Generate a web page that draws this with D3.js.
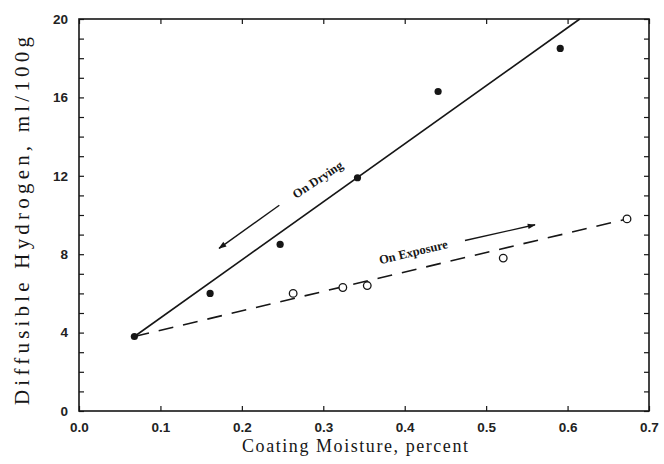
<!DOCTYPE html>
<html><head><meta charset="utf-8">
<script src="https://cdn.jsdelivr.net/npm/d3@7"></script>
<style>body{margin:0;background:#fff}</style>
</head><body>
<svg id="c" width="664" height="464"></svg>
<script>
// Data
const dryingX = [0.068, 0.161, 0.247, 0.342, 0.441, 0.591];
const dryingY = [3.8, 6.0, 8.5, 11.9, 16.3, 18.5];
const exposureX = [0.263, 0.324, 0.354, 0.521, 0.673];
const exposureY = [6.0, 6.3, 6.4, 7.8, 9.8];
const dryingFitX = [0.068, 0.615];
const dryingFitY = [3.8, 20];
const exposureFitX = [0.068, 0.673];
const exposureFitY = [3.8, 9.8];
const xTicks = [0, 0.1, 0.2, 0.3, 0.4, 0.5, 0.6, 0.7];
const yTicks = d3.range(0, 21, 1);
const yLabelTicks = [0, 4, 8, 12, 16, 20];
const dryingArrowX = [0.246, 0.172];
const dryingArrowY = [10.5, 8.3];
const exposureArrowX = [0.474, 0.560];
const exposureArrowY = [8.7, 9.5];
const labels = [
  {text: "On Drying", x: 0.294, y: 11.75, fit: "drying"},
  {text: "On Exposure", x: 0.411, y: 8.05, fit: "exposure"}
];

const ink = "#161616";
const svg = d3.select("#c");
const L = 79, R = 649, T = 19, B = 411;
const x = d3.scaleLinear().domain([0, 0.7]).range([L, R]);
const y = d3.scaleLinear().domain([0, 20]).range([B, T]);

svg.append("defs").append("marker")
  .attr("id", "ah").attr("viewBox", "0 0 10 10").attr("refX", 9).attr("refY", 5)
  .attr("markerWidth", 11).attr("markerHeight", 8).attr("markerUnits", "userSpaceOnUse")
  .attr("orient", "auto")
  .append("path").attr("d", "M0,1.5 L10,5 L0,8.5 Z").attr("fill", ink);

// axes
const tickFont = g => g.selectAll("text").attr("font-family", "Liberation Sans, Arial, sans-serif")
  .attr("font-size", 13.5).attr("font-weight", "bold").attr("fill", "#222");
const clean = g => { g.select(".domain").remove(); g.selectAll("line").attr("stroke", ink).attr("stroke-width", 1.2); };

svg.append("g").attr("transform", `translate(0,${B})`)
  .call(d3.axisBottom(x).tickValues(xTicks).tickFormat(d3.format(".1f")).tickSizeInner(-5).tickPadding(11))
  .call(clean).call(tickFont);
svg.append("g").attr("transform", `translate(0,${T})`)
  .call(d3.axisTop(x).tickValues(xTicks).tickFormat("").tickSizeInner(-5))
  .call(clean);
svg.append("g").attr("transform", `translate(${L},0)`)
  .call(d3.axisLeft(y).tickValues(yTicks).tickFormat(d => yLabelTicks.includes(d) ? d : "").tickSizeInner(-5).tickPadding(11))
  .call(clean).call(tickFont);
svg.append("g").attr("transform", `translate(${R},0)`)
  .call(d3.axisRight(y).tickValues(yTicks).tickFormat("").tickSizeInner(-5))
  .call(clean);

svg.append("rect").attr("x", L).attr("y", T).attr("width", R - L).attr("height", B - T)
  .attr("fill", "none").attr("stroke", ink).attr("stroke-width", 1.6);

// fit lines
const line = d3.line().x(d => x(d[0])).y(d => y(d[1]));
svg.append("path").datum(d3.zip(dryingFitX, dryingFitY)).attr("d", line)
  .attr("fill", "none").attr("stroke", ink).attr("stroke-width", 1.6);
svg.append("path").datum(d3.zip(exposureFitX, exposureFitY)).attr("d", line)
  .attr("fill", "none").attr("stroke", ink).attr("stroke-width", 1.6).attr("stroke-dasharray", "15 10");

// points
svg.append("g").selectAll("circle").data(d3.zip(dryingX, dryingY)).join("circle")
  .attr("cx", d => x(d[0])).attr("cy", d => y(d[1])).attr("r", 3.6).attr("fill", ink);
svg.append("g").selectAll("circle").data(d3.zip(exposureX, exposureY)).join("circle")
  .attr("cx", d => x(d[0])).attr("cy", d => y(d[1])).attr("r", 3.8)
  .attr("fill", "#fff").attr("stroke", ink).attr("stroke-width", 1.3);

// arrows
[[dryingArrowX, dryingArrowY], [exposureArrowX, exposureArrowY]].forEach(([ax, ay]) => {
  svg.append("path").datum(d3.zip(ax, ay)).attr("d", line)
    .attr("fill", "none").attr("stroke", ink).attr("stroke-width", 1.4).attr("marker-end", "url(#ah)");
});

// rotated labels
const ang = (fx, fy) => Math.atan2(y(fy[1]) - y(fy[0]), x(fx[1]) - x(fx[0])) * 180 / Math.PI;
labels.forEach(l => {
  const a = l.fit === "drying" ? ang(dryingFitX, dryingFitY) + 2 : ang(exposureFitX, exposureFitY);
  svg.append("text").attr("transform", `translate(${x(l.x)},${y(l.y)}) rotate(${a})`)
    .attr("text-anchor", "middle").attr("dominant-baseline", "middle")
    .attr("font-family", "Liberation Serif, Times New Roman, serif").attr("font-size", 12.5)
    .attr("font-weight", "bold").attr("fill", ink).text(l.text);
});

// axis titles
svg.append("text").attr("x", (L + R) / 2 - 9).attr("y", 452).attr("text-anchor", "middle")
  .attr("font-family", "Liberation Serif, Times New Roman, serif").attr("font-size", 18)
  .attr("fill", ink).attr("textLength", 226).attr("lengthAdjust", "spacing")
  .text("Coating Moisture, percent");
svg.append("text").attr("transform", `translate(29,${(T + B) / 2 + 6}) rotate(-90)`)
  .attr("text-anchor", "middle")
  .attr("font-family", "Liberation Serif, Times New Roman, serif").attr("font-size", 21)
  .attr("fill", ink).attr("textLength", 368).attr("lengthAdjust", "spacing")
  .text("Diffusible Hydrogen, ml/100g");
</script>
</body></html>
